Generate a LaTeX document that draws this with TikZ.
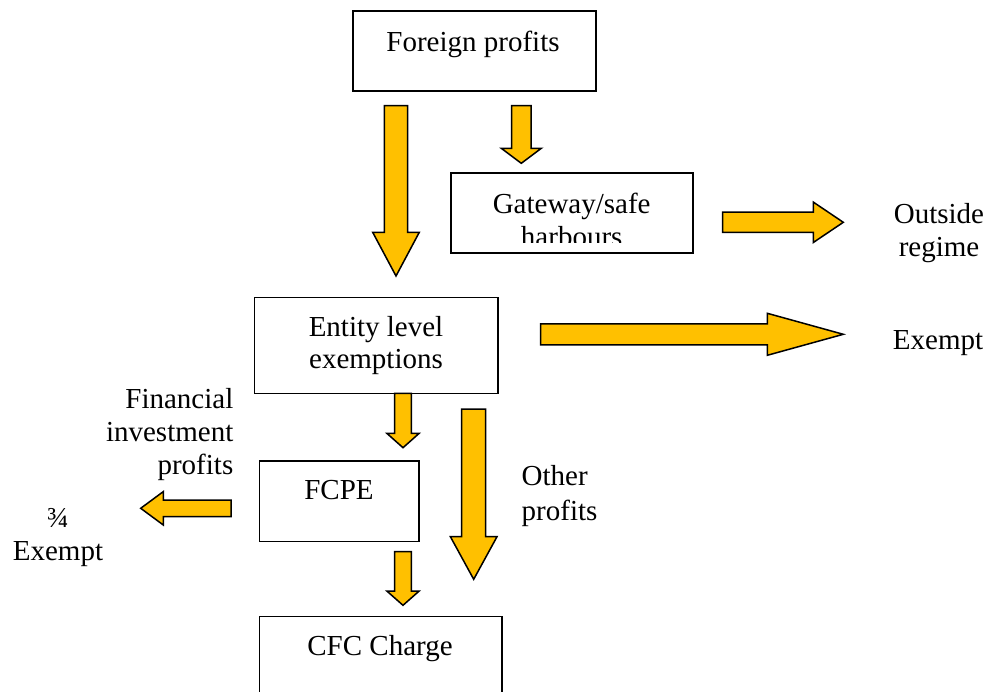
\documentclass[tikz,border=0pt]{standalone}
\usepackage{fontspec}
\setmainfont{Liberation Serif}
\definecolor{gold}{HTML}{FFC000}
\newcommand\vblock[6]{%
  \filldraw[blk] ({#1-#4},#2) -- ({#1+#4},#2) -- ({#1+#4},#6) -- ({#1+#5},#6) -- (#1,#3) -- ({#1-#5},#6) -- ({#1-#4},#6) -- cycle;}
\newcommand\hblock[6]{%
  \filldraw[blk] (#2,{#1-#4}) -- (#6,{#1-#4}) -- (#6,{#1-#5}) -- (#3,#1) -- (#6,{#1+#5}) -- (#6,{#1+#4}) -- (#2,{#1+#4}) -- cycle;}
\begin{document}
\begin{tikzpicture}[x=1pt,y=-1pt,
  blk/.style={fill=gold,draw=black,line width=1.5pt},
  box/.style={draw=black,line width=1.6pt,inner sep=0pt,outer sep=0pt},
  txt/.style={inner sep=0pt,outer sep=0pt,anchor=base,font=\fontsize{29}{34}\selectfont},
  txtr/.style={txt,anchor=base east},
  txtl/.style={txt,anchor=base west}]
\useasboundingbox (0,0) rectangle (985,692);
\clip (0,0) rectangle (985,692);
% boxes
\node[box,minimum width=243pt,minimum height=80pt] (fp) at (474.5,51) {};
\node[box,minimum width=242pt,minimum height=80pt] (gw) at (572,213.3) {};
\node[box,minimum width=243.4pt,minimum height=95.6pt] (ent) at (376,345.5) {};
\node[box,minimum width=159.7pt,minimum height=80.7pt] (fcpe) at (339.2,501.3) {};
\node[box,minimum width=242.4pt,minimum height=103.3pt] (cfc) at (380.5,668.3) {};
% texts
\node[txt] (tfp) at (473,52) {Foreign profits};
\node[txt] (tgw1) at (571.7,213.3) {Gateway/safe};
\begin{scope}
\clip (440,160) rectangle (700,242.3);
\node[txt] (tgw2) at (571.7,247) {harbours};
\end{scope}
\node[txt] (tent1) at (376,336.7) {Entity level};
\node[txt] (tent2) at (376,368.3) {exemptions};
\node[txt] (tfcpe) at (339,499.3) {FCPE};
\node[txt] (tcfc) at (380,655) {CFC Charge};
\node[txtr] (fin1) at (233.3,408.3) {Financial};
\node[txtr] (fin2) at (233.3,441.5) {investment};
\node[txtr] (fin3) at (233.3,474.5) {profits};
\node[txtl] (oth1) at (521.7,485.7) {Other};
\node[txtl] (oth2) at (521.7,520) {profits};
\node[txt] (q1) at (58,527) {¾};
\node[txt] (q2) at (58,560) {Exempt};
\node[txt] (out1) at (939,223.3) {Outside};
\node[txt] (out2) at (939,256.7) {regime};
\node[txt] (ex) at (938,350) {Exempt};
% block arrows
\vblock{396}{105.7}{276}{11.7}{23.3}{232.3}
\vblock{521.3}{105.7}{163.3}{9.7}{20}{148.3}
\hblock{222.3}{722.7}{843.3}{10.2}{20.2}{813.3}
\hblock{334.3}{540.7}{843.3}{10.5}{21}{767.3}
\vblock{403}{393.3}{447.7}{8.3}{16.2}{433.3}
\vblock{473.7}{409}{579.3}{12}{23.3}{536.7}
\hblock{508.3}{231}{140.7}{8.3}{16.7}{163.3}
\vblock{403}{551.7}{605.3}{8.3}{16.2}{591}
\end{tikzpicture}
\end{document}
